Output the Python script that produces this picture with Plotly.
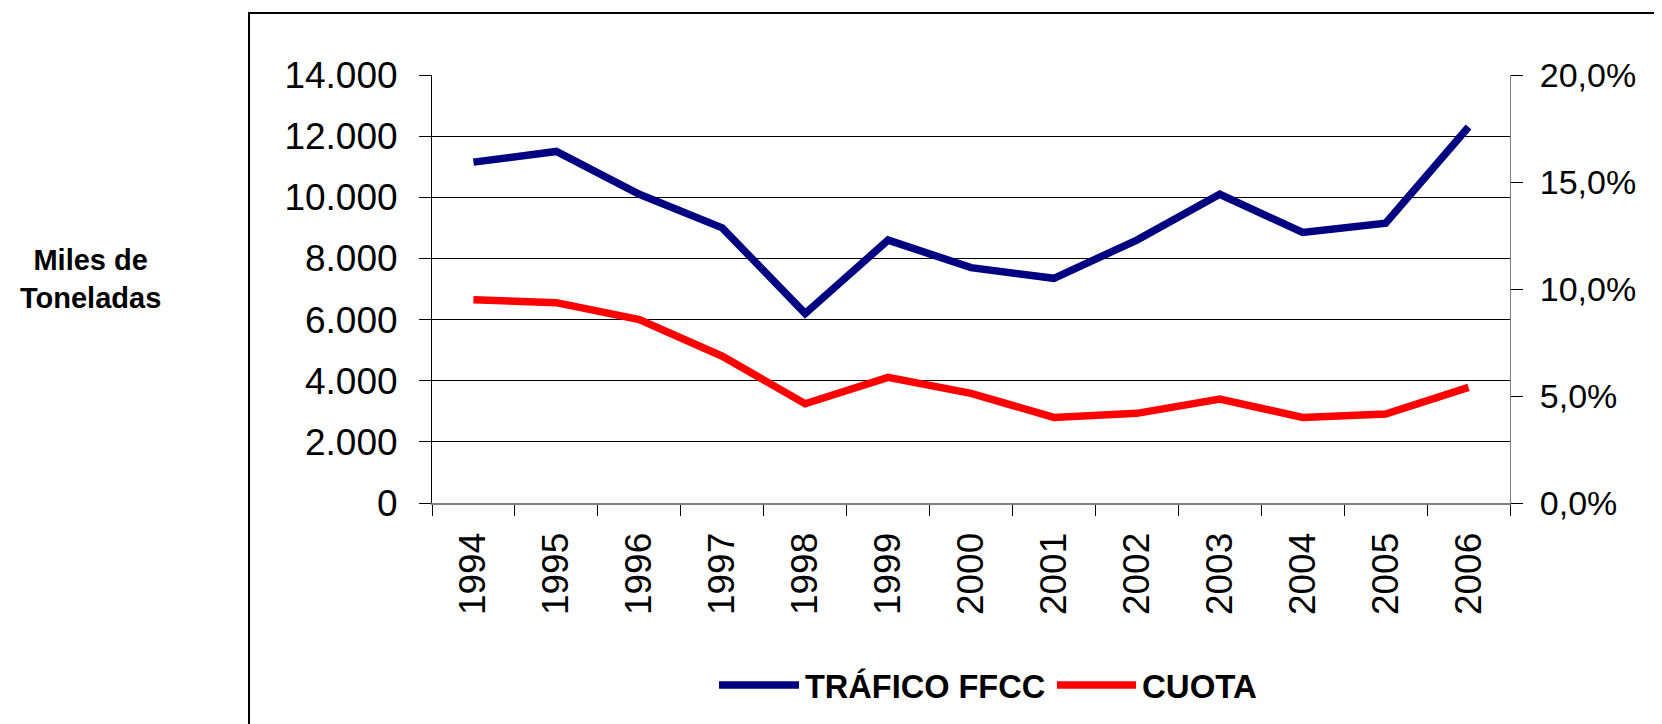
import plotly.graph_objects as go

years = ["1994", "1995", "1996", "1997", "1998", "1999", "2000",
         "2001", "2002", "2003", "2004", "2005", "2006"]
trafico = [11150, 11500, 10100, 9000, 6200, 8600, 7700,
           7350, 8600, 10100, 8850, 9150, 12300]
cuota = [0.095, 0.0936, 0.0857, 0.0686, 0.0464, 0.0587, 0.0512,
         0.040, 0.0419, 0.0486, 0.040, 0.0416, 0.054]
left_ticks = [0, 2000, 4000, 6000, 8000, 10000, 12000, 14000]
right_ticks = [0, 0.05, 0.10, 0.15, 0.20]

NAVY = "#000080"
RED = "#FF0000"
ARIAL = "Liberation Sans, Arial, sans-serif"

OFF = 8  # page body margin
# plot area in screen pixels: left 432, right 1510, top 75, bottom 503
L = 432 - OFF
T = 75 - OFF
R = 1662 - (1510 - OFF)
B = 724 - (503 - OFF)
W = 1662 - L - R
H = 724 - T - B

def px(x):
    return (x - OFF - L) / W

def py(y):
    return (T + H - (y - OFF)) / H

fig = go.Figure()
fig.add_trace(go.Scatter(x=years, y=trafico, name="TRÁFICO FFCC", mode="lines",
                         line=dict(color=NAVY, width=7.5), yaxis="y"))
fig.add_trace(go.Scatter(x=years, y=cuota, name="CUOTA", mode="lines",
                         line=dict(color=RED, width=7.5), yaxis="y2"))

fig.update_layout(
    width=1662, height=724,
    margin=dict(l=L, r=R, t=T, b=B, autoexpand=False),
    paper_bgcolor="white", plot_bgcolor="white",
    separators=",.",
    showlegend=False,
    xaxis=dict(
        type="category", tickangle=-90, automargin=False,
        showgrid=False, showline=True, linecolor="#808080", linewidth=2,
        ticks="outside", ticklen=11, tickcolor="black", tickwidth=1,
        tickson="boundaries",
        tickfont=dict(family=ARIAL, size=37, color="black"),
        ticklabelstandoff=13,
        range=[-0.5, 12.5],
    ),
    yaxis=dict(
        range=[0, 14000], tickvals=left_ticks, tickformat=",d", automargin=False,
        showgrid=True, gridcolor="black", gridwidth=1,
        showline=True, linecolor="black", linewidth=1,
        ticks="outside", ticklen=12, tickcolor="black",
        tickfont=dict(family=ARIAL, size=37, color="black"),
        ticklabelstandoff=14,
        zeroline=False,
    ),
    yaxis2=dict(
        range=[0, 0.20], tickvals=right_ticks, tickformat=".1%", automargin=False,
        overlaying="y", side="right", showgrid=False,
        showline=True, linecolor="#808080", linewidth=1,
        ticks="outside", ticklen=12, tickcolor="black",
        tickfont=dict(family=ARIAL, size=34, color="black"),
        ticklabelstandoff=10,
        zeroline=False,
    ),
)

# chart frame
fig.add_shape(type="rect", xref="paper", yref="paper",
              x0=px(249), x1=1.4, y0=-0.7, y1=py(13),
              line=dict(color="black", width=2), fillcolor="rgba(0,0,0,0)",
              layer="below")

# custom legend
fig.add_shape(type="line", xref="paper", yref="paper",
              x0=px(719), x1=px(799), y0=py(685), y1=py(685),
              line=dict(color=NAVY, width=7.5))
fig.add_annotation(xref="paper", yref="paper", x=px(803), y=py(686),
                   text="<b>TRÁFICO FFCC</b>", showarrow=False,
                   xanchor="left", yanchor="middle",
                   font=dict(family=ARIAL, size=32.5, color="black"))
fig.add_shape(type="line", xref="paper", yref="paper",
              x0=px(1057), x1=px(1136), y0=py(685), y1=py(685),
              line=dict(color=RED, width=7.5))
fig.add_annotation(xref="paper", yref="paper", x=px(1140), y=py(686),
                   text="<b>CUOTA</b>", showarrow=False,
                   xanchor="left", yanchor="middle",
                   font=dict(family=ARIAL, size=33, color="black"))

# y axis title
fig.add_annotation(xref="paper", yref="paper", x=px(90), y=py(279),
                   text="<b>Miles de<br>Toneladas</b>", showarrow=False,
                   xanchor="center", yanchor="middle", align="center",
                   font=dict(family=ARIAL, size=29, color="black"))

fig.write_html("out.html")
